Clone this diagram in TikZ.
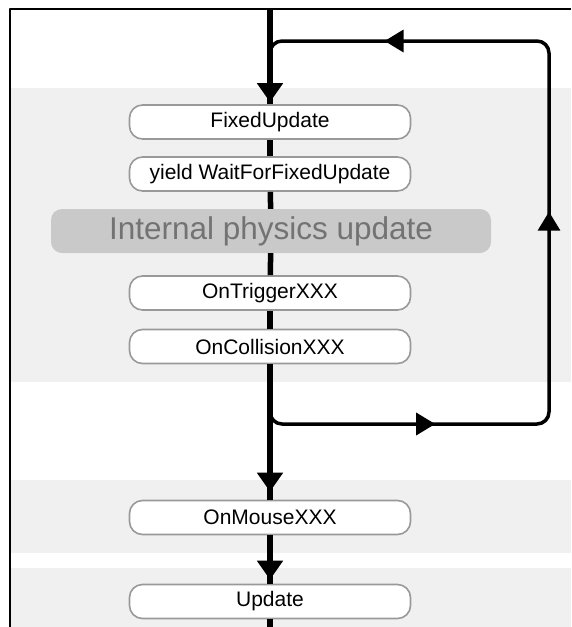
\documentclass[tikz,border=0pt]{standalone}
\usepackage{fontspec}
\setmainfont{Liberation Sans}
\usetikzlibrary{arrows.meta,decorations.markings}
\definecolor{fqfqfq}{rgb}{0.94,0.94,0.94}
\definecolor{cococo}{rgb}{0.79,0.79,0.79}
\definecolor{pwpwpw}{rgb}{0.6,0.6,0.6}
\definecolor{iqiqiq}{rgb}{0.45,0.45,0.45}
\tikzset{
	callbox/.style={draw=pwpwpw,line width=1.6pt,fill=white,rounded corners=13pt,minimum width=281pt,minimum height=34pt,inner sep=0pt,font=\fontsize{21}{21}\selectfont},
	physbox/.style={fill=cococo,rounded corners=11pt,minimum width=440pt,minimum height=44pt,inner sep=0pt,text=iqiqiq,font=\fontsize{31.5}{31.5}\selectfont},
	flow/.style={line width=5.5pt},
	loopline/.style={line width=3.5pt,rounded corners=12pt},
	tipat/.style={postaction={decorate},decoration={markings,mark=at position #1 with {\arrow{Triangle[length=19pt,width=25pt]}}}}
}

\begin{document}
\begin{tikzpicture}[line cap=butt,line join=round,x=1pt,y=-1pt]
	\useasboundingbox (0,0) rectangle (571,627);
	% grey bands
	\fill[fqfqfq] (11,88) rectangle (571,382);
	\fill[fqfqfq] (11,480) rectangle (571,553);
	\fill[fqfqfq] (11,568) rectangle (571,627);
	\draw[line width=2pt] (571,9) -- (10,9) -- (10,627);
	% calls
	\coordinate (top) at (270,9);
	\node[callbox] (fixed) at (270,122) {FixedUpdate};
	\node[callbox] (yield) at (270,174) {yield WaitForFixedUpdate};
	\node[physbox] (phys) at (271,231) {Internal physics update};
	\node[callbox] (trigger) at (270,293) {OnTriggerXXX};
	\node[callbox] (collision) at (270,346.5) {OnCollisionXXX};
	\node[callbox] (mouse) at (270,517.5) {OnMouseXXX};
	\node[callbox] (update) at (270,601.5) {Update};
	\coordinate (bottom) at (270,630);
	% loop corners
	\coordinate (loopin) at (270,60);
	\coordinate (loopout) at (270,400);
	\coordinate (loopbr) at (549,424);
	\coordinate (looptr) at (549,41);
	\draw[loopline,postaction={decorate},decoration={markings,
		mark=at position 184pt with {\arrow{Triangle[length=19pt,width=22pt]}},
		mark=at position 505pt with {\arrow{Triangle[length=19pt,width=22pt]}},
		mark=at position 835pt with {\arrow{Triangle[length=19pt,width=22pt]}}}]
		(loopout) |- (loopbr) -- (looptr) -| (loopin);
	% main line
	\draw[flow,tipat=-2pt] (top) -- (fixed);
	\draw[flow] (fixed) -- (yield);
	\draw[flow] (yield) -- (phys);
	\draw[flow] (phys) -- (trigger);
	\draw[flow] (trigger) -- (collision);
	\draw[flow,tipat=-8pt] (collision) -- (mouse);
	\draw[flow,tipat=-4pt] (mouse) -- (update);
	\draw[flow] (update) -- (bottom);
\end{tikzpicture}
\end{document}
